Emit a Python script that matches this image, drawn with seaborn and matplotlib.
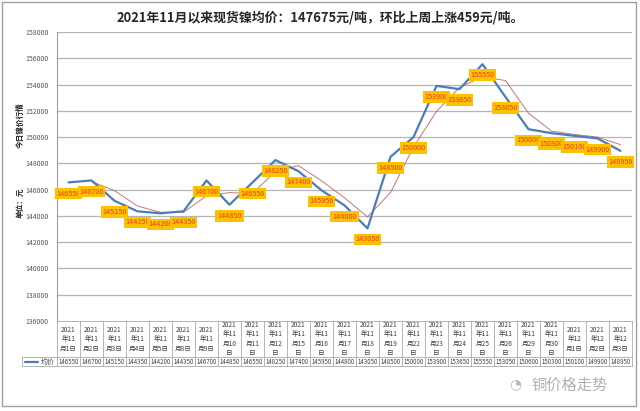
import matplotlib
matplotlib.use("Agg")
import matplotlib.pyplot as plt
import matplotlib.transforms as mtransforms
from matplotlib.patches import Rectangle
import seaborn as sns
import pandas as pd

# data
dates = ["11/1", "11/2", "11/3", "11/4", "11/5", "11/8", "11/9", "11/10", "11/11",
         "11/12", "11/15", "11/16", "11/17", "11/18", "11/19", "11/22", "11/23",
         "11/24", "11/25", "11/26", "11/29", "11/30", "12/1", "12/2", "12/3"]
prices = [146550, 146700, 145150, 144350, 144200, 144350, 146700, 144850, 146550,
          148250, 147400, 145950, 144800, 143050, 148500, 150000, 153900, 153650,
          155550, 153050, 150600, 150300, 150100, 149900, 148950]
# 2-period moving average trendline (starts at the second date)
trend = [146625, 145925, 144750, 144275, 144275, 145525, 145775, 145700, 147400,
         147825, 146675, 145375, 143925, 145775, 149250, 151950, 153775, 154600,
         154300, 151825, 150450, 150200, 150000, 149425]
yticks = list(range(136000, 158001, 2000))

title = "2021年11月以来现货镍均价：147675元/吨，环比上周上涨459元/吨。"

sns.set_style("white")
plt.rcParams['font.family'] = ['Noto Sans CJK SC', 'DejaVu Sans']

W, H = 640, 411
fig = plt.figure(figsize=(W / 100, H / 100), dpi=100)
fig.patch.set_facecolor("white")

def fy(py):
    return 1 - py / H

def fx(px):
    return px / W

ax = fig.add_axes([fx(57), fy(321), fx(632) - fx(57), fy(32) - fy(321)])

df = pd.DataFrame({"idx": range(len(prices)), "price": prices})
df_tr = pd.DataFrame({"idx": range(1, len(prices)), "price": trend})

sns.lineplot(data=df, x="idx", y="price", ax=ax, color="#4A7EBB", linewidth=1.6, zorder=3)
sns.lineplot(data=df_tr, x="idx", y="price", ax=ax, color="#B85450", linewidth=0.7,
             alpha=0.8, zorder=2)

ax.set_xlim(-0.5, len(prices) - 0.5)
ax.set_ylim(136000, 158000)
ax.set_yticks(yticks)
ax.set_yticklabels([str(v) for v in yticks], fontsize=5, color="#555555")
ax.set_xticks([])
ax.set_xlabel("")
ax.set_ylabel("")
ax.tick_params(axis="y", length=0, pad=6)
for y in yticks[1:]:
    ax.axhline(y, color="#b5b5b5", linewidth=0.9, zorder=1)
for s in ["top", "right", "bottom"]:
    ax.spines[s].set_visible(False)
ax.spines["left"].set_color("#a0a0a0")
ax.spines["left"].set_linewidth(0.8)

# data labels
for i, v in enumerate(prices):
    ax.annotate(str(v), (i, v), xytext=(0, -8), textcoords="offset points",
                ha="center", va="center", fontsize=5.2, color="#E8401C", zorder=5,
                bbox=dict(boxstyle="square,pad=0.25", fc="#FFC000", ec="none"))

# title and axis titles
fig.text(0.5, fy(18), title, ha="center", va="center", fontsize=9.3, fontweight="bold")
fig.text(fx(20), fy(125), "今日镍价行情", rotation=90, ha="center", va="center",
         fontsize=5.5, fontweight="bold")
fig.text(fx(20), fy(203), "单位：元", rotation=90, ha="center", va="center",
         fontsize=5.5, fontweight="bold")

# data table below the plot
tr = mtransforms.blended_transform_factory(ax.transData, fig.transFigure)
line_c = "#a8a8a8"
top, mid, bot = fy(321), fy(357), fy(366)
for k in range(len(prices) + 1):
    ax.plot([k - 0.5, k - 0.5], [bot, top], transform=tr, color=line_c, lw=0.6,
            clip_on=False)
ax.plot([-0.5, len(prices) - 0.5], [top, top], transform=tr, color=line_c, lw=0.6, clip_on=False)
for yy in (mid, bot):
    fig.add_artist(plt.Line2D([fx(22), fx(632)], [yy, yy], color=line_c, lw=0.6))
fig.add_artist(plt.Line2D([fx(22), fx(22)], [bot, mid], color=line_c, lw=0.6))

for i, d in enumerate(dates):
    m, day = d.split("/")
    if len(day) == 1:
        lab = f"2021\n年{m}\n月{day}日"
    else:
        lab = f"2021\n年{m}\n月{day}\n日"
    ax.text(i, (top + mid) / 2, lab, transform=tr, ha="center", va="center",
            fontsize=4.8, color="#404040", linespacing=1.25)
    ax.text(i, (mid + bot) / 2, str(prices[i]), transform=tr, ha="center", va="center",
            fontsize=4.4, color="#404040")

# legend key in the table
fig.add_artist(plt.Line2D([fx(25), fx(38)], [(mid + bot) / 2] * 2, color="#4A7EBB", lw=1.6))
fig.text(fx(41), (mid + bot) / 2, "均价", ha="left", va="center", fontsize=5, color="#404040")

# watermark
fig.text(fx(570), fy(385), "铜价格走势", ha="center", va="center", fontsize=11,
         color="#b0b0b0")
fig.text(fx(515), fy(384), "◔", ha="center", va="center", fontsize=10, color="#b8b8b8",
         family=["DejaVu Sans"])

# outer frame
fig.add_artist(Rectangle((fx(2), fy(406)), fx(636) - fx(2), fy(2) - fy(406),
                         transform=fig.transFigure, fill=False, ec="#a0a0a0", lw=1.0))

fig.savefig("out.png", dpi=100)
